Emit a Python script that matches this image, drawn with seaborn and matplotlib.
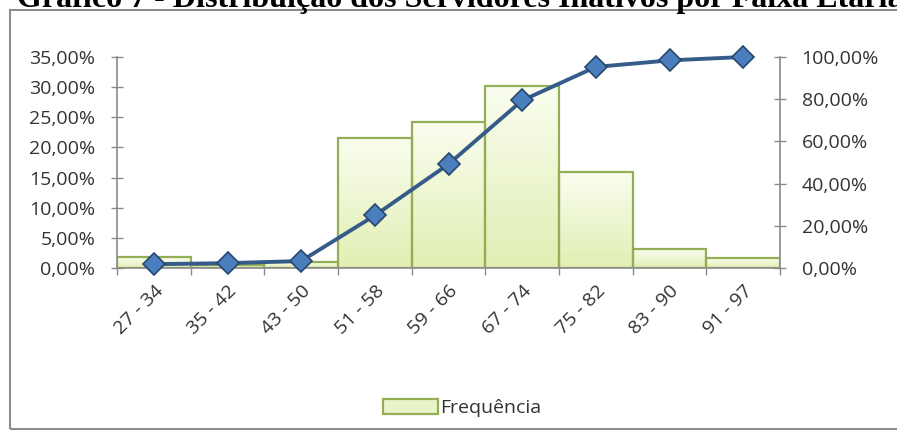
import numpy as np
import pandas as pd
import matplotlib
matplotlib.use("Agg")
import matplotlib.pyplot as plt
from matplotlib.patches import Rectangle, Patch
from matplotlib.colors import LinearSegmentedColormap
from matplotlib.ticker import FixedLocator, FuncFormatter
import seaborn as sns

# Age brackets of retired civil servants
faixas = ["27 - 34", "35 - 42", "43 - 50", "51 - 58", "59 - 66",
          "67 - 74", "75 - 82", "83 - 90", "91 - 97"]
# Relative frequency per bracket (%)
frequencia = [1.8, 0.5, 1.0, 21.6, 24.3, 30.2, 15.9, 3.1, 1.6]
# Cumulative frequency (%)
acumulado = [1.8, 2.3, 3.3, 24.9, 49.2, 79.4, 95.3, 98.4, 100.0]

titulo = "Gráfico 7 - Distribuição dos Servidores Inativos por Faixa Etária"

sns.set_theme(style="white")
plt.rcParams["font.family"] = ["Open Sans", "DejaVu Sans"]

W, H = 897, 432
fig = plt.figure(figsize=(W / 100, H / 100), dpi=100)
fig.patch.set_facecolor("white")

ax = fig.add_axes([117 / W, 1 - 268 / H, (780 - 117) / W, (268 - 57) / H])

df = pd.DataFrame({"faixa": faixas, "freq": frequencia, "acum": acumulado})

bar_edge = "#93AE55"
sns.barplot(data=df, x="faixa", y="freq", ax=ax, width=1.0,
            color="#EEF6D3", saturation=1, edgecolor=bar_edge, linewidth=1.6)

# Soft vertical gradient inside each bar
grad = LinearSegmentedColormap.from_list("verde", ["#E1EFB4", "#FAFDEF"])
for p in list(ax.patches):
    p.set_facecolor("none")
    p.set_edgecolor(bar_edge)
    p.set_zorder(3)
    x0, y0 = p.get_x(), p.get_y()
    w, h = p.get_width(), p.get_height()
    im = ax.imshow(np.linspace(0, 1, 64).reshape(-1, 1), cmap=grad, aspect="auto",
                   origin="lower", extent=(x0, x0 + w, y0, y0 + h), zorder=2)
    im.set_clip_path(p)
ax.set_xlim(-0.5, len(faixas) - 0.5)
ax.set_ylim(0, 35)
ax.set_xlabel("")
ax.set_ylabel("")

axis_col = "#8A8A8A"
txt_col = "#333333"
fs = 14

ax.yaxis.set_major_locator(FixedLocator(np.arange(0, 36, 5)))
ax.yaxis.set_major_formatter(FuncFormatter(lambda v, _: f"{v:.2f}%".replace(".", ",")))
ax.tick_params(axis="y", direction="inout", length=9, width=1, color=axis_col,
               labelsize=fs, labelcolor=txt_col, pad=11)

ax.set_xticks(np.arange(len(faixas)))
ax.set_xticklabels(faixas, rotation=45, ha="right", rotation_mode="anchor")
ax.tick_params(axis="x", which="major", length=0, labelsize=fs, labelcolor=txt_col, pad=10)
ax.xaxis.set_minor_locator(FixedLocator(np.arange(-0.5, len(faixas), 1.0)))
ax.tick_params(axis="x", which="minor", direction="out", length=5, width=1, color=axis_col, bottom=True)

for side in ["top", "right"]:
    ax.spines[side].set_visible(False)
for side in ["left", "bottom"]:
    ax.spines[side].set_color(axis_col)
    ax.spines[side].set_linewidth(1.2)
    ax.spines[side].set_zorder(4)

# Cumulative curve on secondary axis
ax2 = ax.twinx()
sns.lineplot(x=np.arange(len(faixas)), y=df["acum"], ax=ax2, color="#345B89",
             linewidth=2.8, marker="D", markersize=11,
             markerfacecolor="#4A7EBD", markeredgecolor="#28476F", markeredgewidth=1.2)
ax2.set_ylim(0, 100)
ax2.set_ylabel("")
ax2.yaxis.set_major_locator(FixedLocator(np.arange(0, 101, 20)))
ax2.yaxis.set_major_formatter(FuncFormatter(lambda v, _: f"{v:.2f}%".replace(".", ",")))
ax2.tick_params(axis="y", direction="inout", length=9, width=1, color=axis_col,
                labelsize=fs, labelcolor=txt_col, pad=11)
for side in ["top", "left", "bottom"]:
    ax2.spines[side].set_visible(False)
ax2.spines["right"].set_color(axis_col)
ax2.spines["right"].set_linewidth(1.2)
for ln in ax2.lines:
    ln.set_clip_on(False)

# Legend (bars only)
handle = Patch(facecolor="#EAF4CB", edgecolor=bar_edge, linewidth=1.6)
fig.legend([handle], ["Frequência"], loc="center", bbox_to_anchor=(462 / W, 1 - 408 / H),
           frameon=False, fontsize=fs, handlelength=2.8, handleheight=0.8,
           handletextpad=0.1, labelcolor=txt_col)

# Chart frame
fig.patches.append(Rectangle((10 / W, 3 / H), 1.2, 1 - 13 / H, transform=fig.transFigure,
                             fill=False, edgecolor="#8C8C8C", linewidth=1.5))

# Title sitting above the frame
fig.text(17 / W, 1 - 7 / H, titulo, ha="left", va="baseline",
         family=["Liberation Serif", "DejaVu Serif"], fontweight="bold",
         fontsize=23, color="black")

fig.savefig("out.png", dpi=100, facecolor="white")
